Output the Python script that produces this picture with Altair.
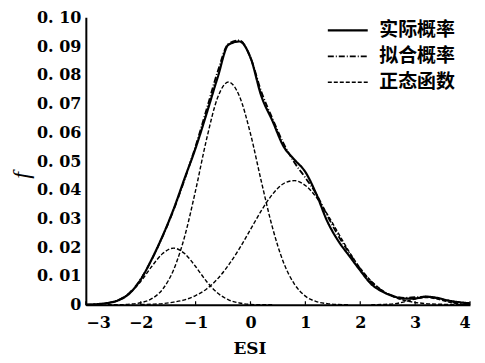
import altair as alt
import pandas as pd

# ---- data ----
x_grid = [-3.0, -2.8, -2.6, -2.4, -2.2, -2.0, -1.8, -1.6, -1.4, -1.2, -1.0, -0.8,
          -0.6, -0.4, -0.2, 0.0, 0.2, 0.4, 0.6, 0.8, 1.0, 1.2, 1.4, 1.6, 1.8, 2.0,
          2.2, 2.4, 2.6, 2.8, 3.0, 3.2, 3.4, 3.6, 3.8, 4.0]

actual = [0.0000, 0.0002, 0.0006, 0.0016, 0.0040, 0.0088, 0.0158, 0.0240, 0.0333, 0.0440,
          0.0545, 0.0665, 0.0790, 0.0905, 0.0916, 0.0860, 0.0725, 0.0640, 0.0552, 0.0505,
          0.0462, 0.0385, 0.0290, 0.0222, 0.0170, 0.0119, 0.0072, 0.0046, 0.0030, 0.0021,
          0.0022, 0.0028, 0.0024, 0.0015, 0.0009, 0.0005]

fitted = [0.0000, 0.0002, 0.0006, 0.0017, 0.0042, 0.0089, 0.0157, 0.0238, 0.0330, 0.0436,
          0.0552, 0.0680, 0.0810, 0.0908, 0.0920, 0.0860, 0.0740, 0.0648, 0.0562, 0.0495,
          0.0442, 0.0385, 0.0310, 0.0240, 0.0180, 0.0125, 0.0080, 0.0049, 0.0031, 0.0024,
          0.0026, 0.0028, 0.0023, 0.0013, 0.0005, 0.0002]

comp_a_x = [-3.0, -2.8, -2.6, -2.4, -2.2, -2.0, -1.8, -1.6, -1.4, -1.2, -1.0, -0.8,
            -0.6, -0.4, -0.2, 0.0, 0.2, 0.4]
comp_a = [0.0000, 0.0002, 0.0006, 0.0017, 0.0041, 0.0081, 0.0133, 0.0178, 0.0197, 0.0178,
          0.0133, 0.0081, 0.0041, 0.0017, 0.0006, 0.0001, 0.0000, 0.0000]

comp_b_x = [-2.6, -2.4, -2.2, -2.0, -1.8, -1.6, -1.4, -1.2, -1.0, -0.8, -0.6, -0.4,
            -0.2, 0.0, 0.2, 0.4, 0.6, 0.8, 1.0, 1.2, 1.4, 1.6, 1.8]
comp_b = [0.0000, 0.0000, 0.0002, 0.0007, 0.0021, 0.0054, 0.0122, 0.0237, 0.0398, 0.0576,
          0.0720, 0.0775, 0.0725, 0.0595, 0.0427, 0.0269, 0.0148, 0.0072, 0.0030, 0.0011,
          0.0004, 0.0001, 0.0000]

comp_c_x = [-2.0, -1.8, -1.6, -1.4, -1.2, -1.0, -0.8, -0.6, -0.4, -0.2, 0.0, 0.2, 0.4,
            0.6, 0.8, 1.0, 1.2, 1.4, 1.6, 1.8, 2.0, 2.2, 2.4, 2.6, 2.8, 3.0, 3.2, 3.4,
            3.6, 3.8, 4.0]
comp_c = [0.0001, 0.0002, 0.0004, 0.0009, 0.0017, 0.0032, 0.0055, 0.0090, 0.0138, 0.0196,
          0.0262, 0.0328, 0.0384, 0.0421, 0.0432, 0.0415, 0.0374, 0.0315, 0.0249, 0.0184,
          0.0127, 0.0082, 0.0050, 0.0028, 0.0015, 0.0008, 0.0004, 0.0002, 0.0001, 0.0000,
          0.0000]

comp_d_x = [2.2, 2.4, 2.6, 2.8, 3.0, 3.2, 3.4, 3.6, 3.8, 4.0]
comp_d = [0.0000, 0.0001, 0.0003, 0.0010, 0.0020, 0.0025, 0.0020, 0.0010, 0.0003, 0.0001]

series_names = ["实际概率", "拟合概率", "正态函数"]

x_ticks = [-3, -2, -1, 0, 1, 2, 3, 4]
x_tick_labels = ["−3", "−2", "−1", "0", "1", "2", "3", "4"]
y_ticks = [0, 0.01, 0.02, 0.03, 0.04, 0.05, 0.06, 0.07, 0.08, 0.09, 0.10]
y_tick_labels = ["0", "0. 01", "0. 02", "0. 03", "0. 04", "0. 05", "0. 06",
                 "0. 07", "0. 08", "0. 09", "0. 10"]

# ---- build tables ----
rows = []
for x, f in zip(x_grid, actual):
    rows.append({"x": x, "f": f, "series": series_names[0], "comp": "actual"})
for x, f in zip(x_grid, fitted):
    rows.append({"x": x, "f": f, "series": series_names[1], "comp": "fit"})
for name, xs, fs in [("a", comp_a_x, comp_a), ("b", comp_b_x, comp_b),
                     ("c", comp_c_x, comp_c), ("d", comp_d_x, comp_d)]:
    for x, f in zip(xs, fs):
        rows.append({"x": x, "f": f, "series": series_names[2], "comp": name})
df = pd.DataFrame(rows)
ticks_df = pd.DataFrame({"x": x_ticks, "f": [0.0] * len(x_ticks),
                         "f2": [0.0012] * len(x_ticks)})


def label_expr(values, labels):
    expr = "''"
    for v, l in zip(reversed(values), reversed(labels)):
        expr = f"abs(datum.value - ({v})) < 1e-6 ? '{l}' : ({expr})"
    return expr


serif = "DejaVu Serif"

x_axis = alt.Axis(values=x_ticks, labelExpr=label_expr(x_ticks, x_tick_labels),
                  title="ESI", titleFont=serif, titleFontSize=17,
                  titleFontWeight="bold", titleX=164, titleY=44,
                  titleBaseline="middle", titleAlign="center",
                  labelPadding=10, labelOverlap=False)
y_axis = alt.Axis(values=y_ticks, labelExpr=label_expr(y_ticks, y_tick_labels),
                  title="f", titleFont="Liberation Serif", titleFontSize=24,
                  titleFontStyle="italic", titleFontWeight="normal",
                  titleX=-64, titleY=158, titleAlign="center", titleBaseline="middle",
                  labelPadding=5, labelOverlap=False)
x_enc = alt.X("x:Q", scale=alt.Scale(domain=[-3, 4], nice=False, zero=False), axis=x_axis)
y_enc = alt.Y("f:Q", scale=alt.Scale(domain=[0, 0.10], nice=False), axis=y_axis)

dash_enc = alt.StrokeDash(
    "series:N",
    scale=alt.Scale(domain=series_names, range=[[1, 0], [6, 2, 1, 2], [4, 2]]),
    legend=alt.Legend(title=None, orient="none", legendX=241, legendY=4,
                      symbolType="stroke", symbolSize=1600, symbolStrokeColor="black",
                      clipHeight=18,
                      labelFont="Noto Sans CJK SC", labelFontSize=19,
                      labelFontWeight="bold", labelColor="black", labelOffset=10,
                      rowPadding=7),
)
width_enc = alt.StrokeWidth(
    "series:N",
    scale=alt.Scale(domain=series_names, range=[2.2, 1.4, 1.4]),
    legend=None,
)

base = alt.Chart(df)
comps = base.transform_filter(alt.datum.comp != "actual").transform_filter(
    alt.datum.comp != "fit").mark_line(color="black", interpolate="monotone").encode(
    x=x_enc, y=y_enc, strokeDash=dash_enc, strokeWidth=width_enc, detail="comp:N")
fit_line = base.transform_filter(alt.datum.comp == "fit").mark_line(
    color="black", interpolate="monotone").encode(
    x=x_enc, y=y_enc, strokeDash=dash_enc, strokeWidth=width_enc, detail="comp:N")
act_line = base.transform_filter(alt.datum.comp == "actual").mark_line(
    color="black", interpolate="monotone").encode(
    x=x_enc, y=y_enc, strokeDash=dash_enc, strokeWidth=width_enc, detail="comp:N")

tick_marks = alt.Chart(ticks_df).mark_rule(color="black", strokeWidth=1.2).encode(
    x=x_enc, y=y_enc, y2="f2:Q")

chart = alt.layer(comps, fit_line, act_line, tick_marks).properties(
    width=385, height=288,
    autosize=alt.AutoSizeParams(type="none"),
    padding={"left": 78, "top": 9, "right": 7, "bottom": 56},
    background="white",
).configure_view(stroke=None).configure_axis(
    grid=False, domainColor="black", domainWidth=2, tickSize=0,
    labelFont=serif, labelFontSize=16, labelFontWeight="bold", labelColor="black",
    titleColor="black",
)

chart.save("out.html", embed_options={"renderer": "svg", "actions": False})
